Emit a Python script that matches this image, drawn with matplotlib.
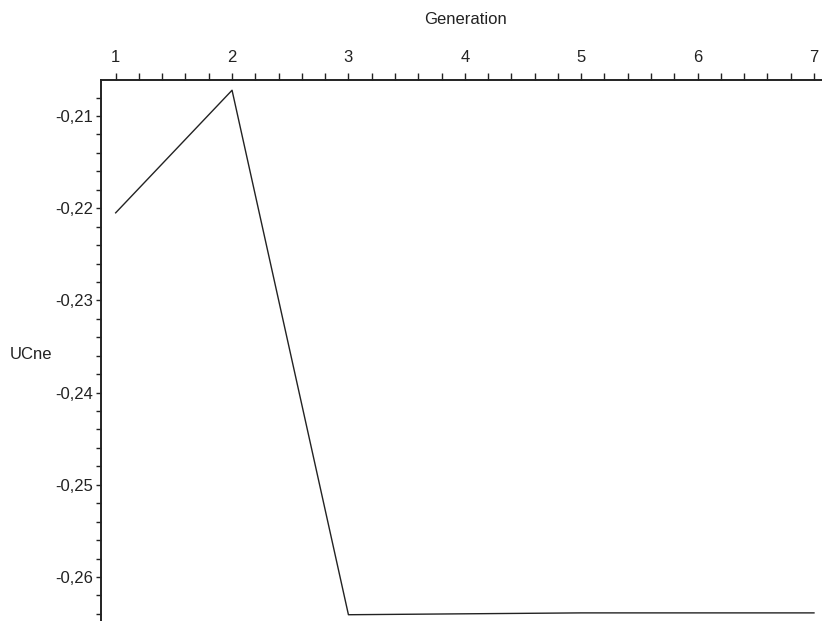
import matplotlib
matplotlib.use("Agg")
import matplotlib.pyplot as plt
from matplotlib.ticker import MultipleLocator, FuncFormatter

plt.rcParams['font.family'] = ['Liberation Sans Narrow', 'Liberation Sans', 'DejaVu Sans']

generation = [1, 2, 3, 4, 5, 6, 7]
ucne = [-0.2205, -0.2072, -0.2641, -0.2640, -0.2639, -0.2639, -0.2639]

ink = '#222222'

fig = plt.figure(figsize=(8.22, 6.21), dpi=100)
ax = fig.add_axes([101 / 822, 0.0, 721 / 822, 541 / 621])

ax.plot(generation, ucne, color=ink, linewidth=1.0)

ax.set_xlim(0.874, 7.069)
ax.set_ylim(-0.26478, -0.20609)

# axes cross at the top-left corner, like a Maple plot
for side in ('bottom', 'right'):
    ax.spines[side].set_visible(False)
for side in ('top', 'left'):
    ax.spines[side].set_linewidth(1.4)
    ax.spines[side].set_color(ink)

ax.xaxis.set_ticks_position('top')
ax.xaxis.set_label_position('top')
ax.xaxis.set_major_locator(MultipleLocator(1))
ax.xaxis.set_minor_locator(MultipleLocator(0.2))
ax.yaxis.set_major_locator(MultipleLocator(0.01))
ax.yaxis.set_minor_locator(MultipleLocator(0.002))

ax.xaxis.set_major_formatter(FuncFormatter(lambda v, p: f"{v:.0f}"))
ax.yaxis.set_major_formatter(FuncFormatter(lambda v, p: f"{v:.2f}".replace('.', ',')))

ax.tick_params(axis='x', which='both', direction='out', length=5, width=1.0,
               color=ink, labelsize=12, labelcolor=ink, pad=6)
ax.tick_params(axis='y', which='both', direction='out', length=3.6, width=1.0,
               color=ink, labelsize=12, labelcolor=ink, pad=2)

ax.set_xlabel('Generation', fontsize=12, color=ink)
ax.xaxis.set_label_coords(0.506, 1.1035)
ax.set_ylabel('UCne', fontsize=12, color=ink, rotation=0, ha='center', va='center')
ax.yaxis.set_label_coords(-0.097, 0.4917)

fig.savefig('out.png', dpi=100)
